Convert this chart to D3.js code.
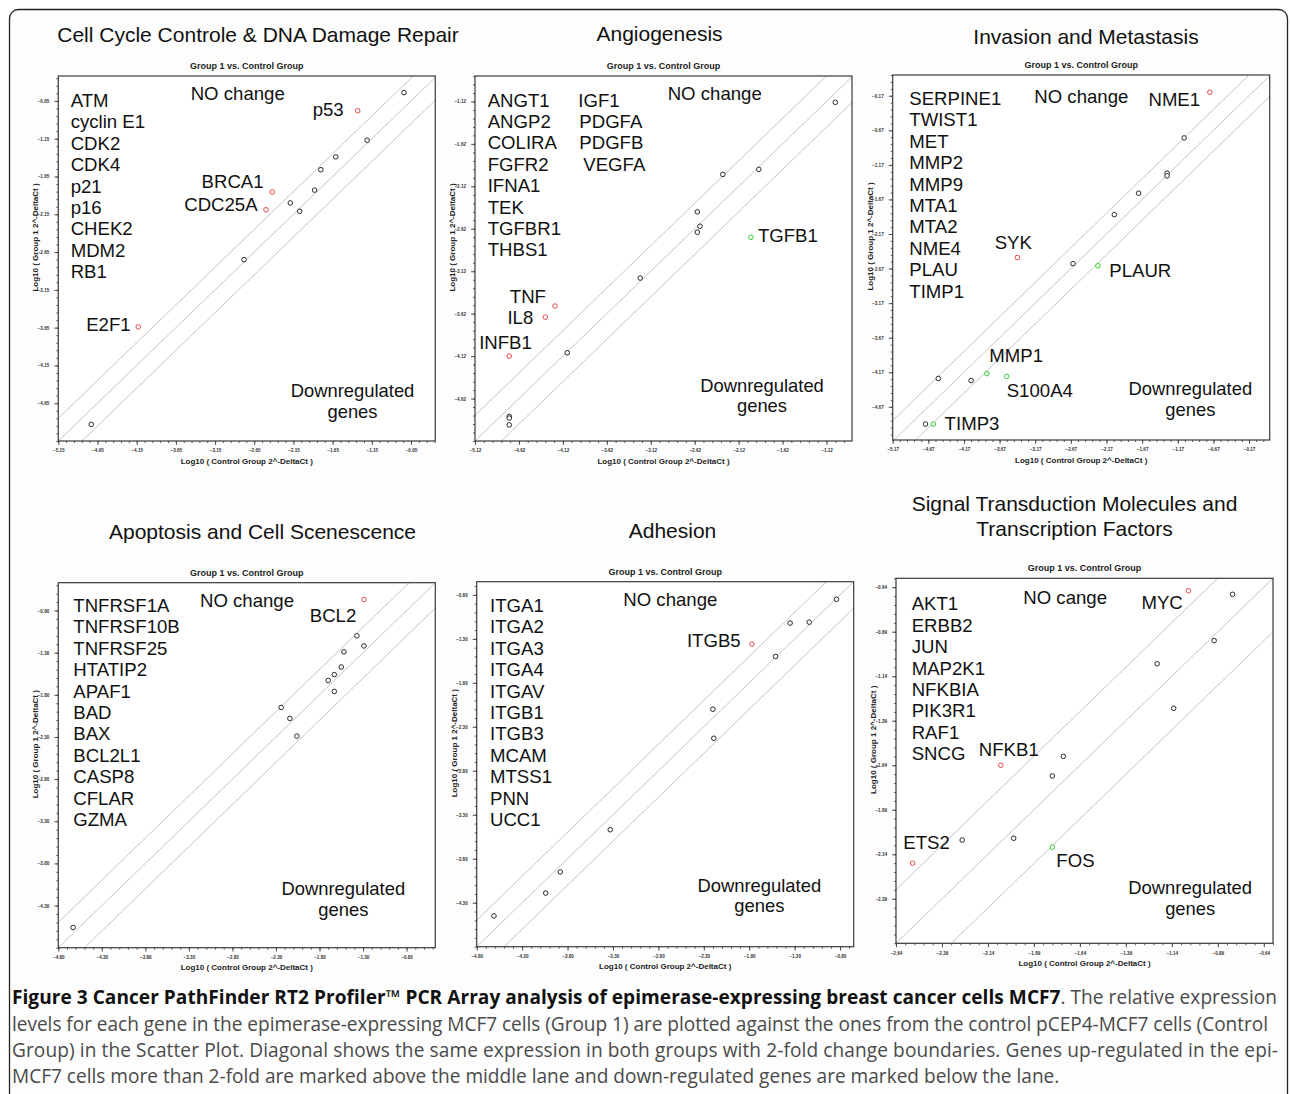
<!DOCTYPE html>
<html>
<head>
<meta charset="utf-8">
<script src="https://cdn.jsdelivr.net/npm/d3@7"></script>
<style>
  html, body { margin: 0; padding: 0; background: #ffffff; }
  svg { display: block; }
</style>
</head>
<body>
<svg id="fig" width="1290" height="1094"></svg>
<script>
// ---------------- data: log10(2^-DeltaCt), control group vs. group 1 ----------------

// Cell cycle control & DNA damage repair
const cellCycleGenes   = ["ATM", "cyclin E1", "CDK2", "CDK4", "p21", "p16", "CHEK2", "MDM2", "RB1"];
const cellCycleControl = [-0.74, -1.33, -1.21, -1.61, -1.80, -1.88, -2.42, -2.50, -2.19, -2.07, -2.78, -4.13, -4.73];
const cellCycleGroup1  = [-0.54, -0.78, -1.17, -1.39, -1.56, -1.83, -1.855, -2.09, -2.00, -2.11, -2.75, -3.64, -4.93];
const cellCycleStatus  = ["n", "up", "n", "n", "n", "n", "up", "up", "n", "n", "n", "up", "n"];
const cellCycleMarks   = ["", "p53", "", "", "", "", "BRCA1", "CDC25A", "", "", "", "E2F1", ""];
const cellCycleXTicks  = [-5.15, -4.65, -4.15, -3.65, -3.15, -2.65, -2.15, -1.65, -1.15, -0.65];
const cellCycleYTicks  = [-4.65, -4.15, -3.65, -3.15, -2.65, -2.15, -1.65, -1.15, -0.65];

// Angiogenesis
const angioGenesA   = ["ANGT1", "ANGP2", "COLIRA", "FGFR2", "IFNA1", "TEK", "TGFBR1", "THBS1"];
const angioGenesB   = ["IGF1", "PDGFA", "PDGFB", "VEGFA"];
const angioControl  = [-1.02, -1.89, -2.30, -2.59, -2.56, -2.59, -1.98, -3.24, -4.21, -4.32, -4.07, -4.73, -4.73, -4.73, -4.73];
const angioGroup1   = [-1.13, -1.92, -1.98, -2.42, -2.59, -2.66, -2.72, -3.20, -3.53, -3.66, -4.08, -4.12, -4.83, -4.85, -4.93];
const angioStatus   = ["n", "n", "n", "n", "n", "n", "down", "n", "up", "up", "n", "up", "n", "n", "n"];
const angioMarks    = ["", "", "", "", "", "", "TGFB1", "", "TNF", "IL8", "", "INFB1", "", "", ""];
const angioXTicks   = [-5.12, -4.62, -4.12, -3.62, -3.12, -2.62, -2.12, -1.62, -1.12];
const angioYTicks   = [-4.62, -4.12, -3.62, -3.12, -2.62, -2.12, -1.62, -1.12];

// Invasion and metastasis
const invasionGenes   = ["SERPINE1", "TWIST1", "MET", "MMP2", "MMP9", "MTA1", "MTA2", "NME4", "PLAU", "TIMP1"];
const invasionControl = [-0.72, -1.08, -1.32, -1.32, -1.72, -2.06, -2.64, -2.29, -3.42, -4.53, -4.07, -3.85, -3.57, -4.71, -4.60];
const invasionGroup1  = [-0.12, -0.78, -1.29, -1.33, -1.58, -1.89, -2.60, -2.63, -2.51, -4.26, -4.29, -4.19, -4.23, -4.92, -4.92];
const invasionStatus  = ["up", "n", "n", "n", "n", "n", "n", "down", "up", "n", "n", "down", "down", "n", "down"];
const invasionMarks   = ["NME1", "", "", "", "", "", "", "PLAUR", "SYK", "", "", "MMP1", "S100A4", "", "TIMP3"];
const invasionXTicks  = [-5.17, -4.67, -4.17, -3.67, -3.17, -2.67, -2.17, -1.67, -1.17, -0.67, -0.17];
const invasionYTicks  = [-4.67, -4.17, -3.67, -3.17, -2.67, -2.17, -1.67, -1.17, -0.67, -0.17];

// Apoptosis and cell senescence
const apoptosisGenes   = ["TNFRSF1A", "TNFRSF10B", "TNFRSF25", "HTATIP2", "APAF1", "BAD", "BAX", "BCL2L1", "CASP8", "CFLAR", "GZMA"];
const apoptosisControl = [-1.29, -1.37, -1.29, -1.52, -1.55, -1.63, -1.70, -1.63, -2.24, -2.14, -2.06, -4.63];
const apoptosisGroup1  = [-0.67, -1.10, -1.22, -1.29, -1.47, -1.56, -1.63, -1.76, -1.95, -2.08, -2.29, -4.56];
const apoptosisStatus  = ["up", "n", "n", "n", "n", "n", "n", "n", "n", "n", "n", "n"];
const apoptosisMarks   = ["BCL2", "", "", "", "", "", "", "", "", "", "", ""];
const apoptosisXTicks  = [-4.80, -4.30, -3.80, -3.30, -2.80, -2.30, -1.80, -1.30, -0.80];
const apoptosisYTicks  = [-4.30, -3.80, -3.30, -2.80, -2.30, -1.80, -1.30, -0.80];

// Adhesion
const adhesionGenes   = ["ITGA1", "ITGA2", "ITGA3", "ITGA4", "ITGAV", "ITGB1", "ITGB3", "MCAM", "MTSS1", "PNN", "UCC1"];
const adhesionControl = [-0.84, -1.14, -1.35, -1.77, -1.51, -2.20, -2.19, -3.33, -3.88, -4.04, -4.61];
const adhesionGroup1  = [-0.85, -1.11, -1.12, -1.36, -1.50, -2.10, -2.43, -3.47, -3.95, -4.19, -4.45];
const adhesionStatus  = ["n", "n", "n", "up", "n", "n", "n", "n", "n", "n", "n"];
const adhesionMarks   = ["", "", "", "ITGB5", "", "", "", "", "", "", ""];
const adhesionXTicks  = [-4.80, -4.30, -3.80, -3.30, -2.80, -2.30, -1.80, -1.30, -0.80];
const adhesionYTicks  = [-4.30, -3.80, -3.30, -2.80, -2.30, -1.80, -1.30, -0.80];

// Signal transduction molecules and transcription factors
const signalGenes   = ["AKT1", "ERBB2", "JUN", "MAP2K1", "NFKBIA", "PIK3R1", "RAF1", "SNCG"];
const signalControl = [-1.05, -0.81, -0.91, -1.22, -1.13, -1.73, -2.07, -1.79, -2.28, -2.00, -1.79, -2.55];
const signalGroup1  = [-0.66, -0.68, -0.94, -1.07, -1.32, -1.59, -1.64, -1.70, -2.06, -2.05, -2.10, -2.19];
const signalStatus  = ["up", "n", "n", "n", "n", "n", "up", "n", "n", "n", "down", "up"];
const signalMarks   = ["MYC", "", "", "", "", "", "NFKB1", "", "", "", "FOS", "ETS2"];
const signalXTicks  = [-2.64, -2.39, -2.14, -1.89, -1.64, -1.39, -1.14, -0.89, -0.64];
const signalYTicks  = [-2.39, -2.14, -1.89, -1.64, -1.39, -1.14, -0.89, -0.64];

// ---------------- layout ----------------
const W = 377, H = 365;
const FOLD = Math.log10(2);               // 2-fold boundary in log10 units
const plotFont = "'Liberation Sans', Arial, Helvetica, sans-serif";
const statusColor = { n: "#2a2a2a", up: "#e24a4a", down: "#33cc33" };

const panels = [
  {
    title: ["Cell Cycle Controle & DNA Damage Repair"], titleX: 258, titleY: [42],
    left: 58.3, top: 76, xDomain: [-5.15, -0.34], yDomain: [-5.15, -0.32],
    xTicks: cellCycleXTicks, yTicks: cellCycleYTicks, minor: 0.1,
    lists: [{ genes: cellCycleGenes, x: 12.4 }], listY: 31,
    noChange: "NO change", noChangePos: [132.4, 23.7],
    down: [294.2, -43.9, -23.3],
    control: cellCycleControl, group1: cellCycleGroup1, status: cellCycleStatus, marks: cellCycleMarks,
    markPos: { p53: ["end", -14, 5.5], BRCA1: ["end", -8.7, -3.7], CDC25A: ["end", -8.4, 1.3], E2F1: ["end", -7.6, 4.3] }
  },
  {
    title: ["Angiogenesis"], titleX: 659.5, titleY: [41],
    left: 475, top: 76, xDomain: [-5.12, -0.83], yDomain: [-5.12, -0.82],
    xTicks: angioXTicks, yTicks: angioYTicks, minor: 0.1,
    lists: [{ genes: angioGenesA, x: 12.7 }, { genes: angioGenesB, x: [103.3, 104.3, 104.3, 108.3] }], listY: 30.5,
    noChange: "NO change", noChangePos: [192.7, 23.7],
    down: [287, -49, -28.7],
    control: angioControl, group1: angioGroup1, status: angioStatus, marks: angioMarks,
    markPos: { TGFB1: ["start", 7, 5], TNF: ["end", -9, -3.5], IL8: ["end", -12, 7], INFB1: ["end", 22.6, -6.8] }
  },
  {
    title: ["Invasion and Metastasis"], titleX: 1086, titleY: [44],
    left: 892.7, top: 75, xDomain: [-5.17, 0.12], yDomain: [-5.15, 0.13],
    xTicks: invasionXTicks, yTicks: invasionYTicks, minor: 0.1,
    lists: [{ genes: invasionGenes, x: 16.6 }], listY: 30,
    noChange: "NO change", noChangePos: [141.6, 28.4],
    down: [297.6, -44.6, -23.6],
    control: invasionControl, group1: invasionGroup1, status: invasionStatus, marks: invasionMarks,
    markPos: { NME1: ["end", -9.7, 14], SYK: ["start", -22.7, -8.7], PLAUR: ["start", 11.3, 11.5],
               MMP1: ["start", 2.6, -11.8], S100A4: ["start", 0, 21], TIMP3: ["start", 11.3, 6] }
  },
  {
    title: ["Apoptosis and Cell Scenescence"], titleX: 262.5, titleY: [539],
    left: 58.3, top: 582.7, xDomain: [-4.80, -0.47], yDomain: [-4.80, -0.47],
    xTicks: apoptosisXTicks, yTicks: apoptosisYTicks, minor: 0.1,
    lists: [{ genes: apoptosisGenes, x: 15 }], listY: 29.3,
    noChange: "NO change", noChangePos: [141.7, 24.7],
    down: [285, -52.2, -31.6],
    control: apoptosisControl, group1: apoptosisGroup1, status: apoptosisStatus, marks: apoptosisMarks,
    markPos: { BCL2: ["end", -7.6, 22.5] }
  },
  {
    title: ["Adhesion"], titleX: 672.5, titleY: [538],
    left: 476.7, top: 581.7, xDomain: [-4.80, -0.65], yDomain: [-4.80, -0.65],
    xTicks: adhesionXTicks, yTicks: adhesionYTicks, minor: 0.1,
    lists: [{ genes: adhesionGenes, x: 13.3 }], listY: 30.3,
    noChange: "NO change", noChangePos: [146.6, 24],
    down: [282.6, -54.6, -34.3],
    control: adhesionControl, group1: adhesionGroup1, status: adhesionStatus, marks: adhesionMarks,
    markPos: { ITGB5: ["end", -11.3, 3.2] }
  },
  {
    title: ["Signal Transduction Molecules and", "Transcription Factors"], titleX: 1074.5, titleY: [511, 536],
    left: 896, top: 578.3, xDomain: [-2.64, -0.59], yDomain: [-2.64, -0.59],
    xTicks: signalXTicks, yTicks: signalYTicks, minor: 0.05,
    lists: [{ genes: signalGenes, x: 15.7 }], listY: 32.2,
    noChange: "NO cange", noChangePos: [127.3, 25.7],
    down: [294.2, -49.6, -28.6],
    control: signalControl, group1: signalGroup1, status: signalStatus, marks: signalMarks,
    markPos: { MYC: ["end", -5.6, 18.5], NFKB1: ["start", -22, -9.5], ETS2: ["start", -9.3, -14.1], FOS: ["start", 4, 19.8] }
  }
];

const svg = d3.select("#fig");

// figure frame with rounded corners
svg.append("rect")
  .attr("x", 9.5).attr("y", 9.5).attr("width", 1278).attr("height", 1100).attr("rx", 9)
  .attr("fill", "#fdfdfd").attr("stroke", "#222").attr("stroke-width", 1.3);

function minorValues(ticks, domain, step) {
  const t0 = ticks[0], lo = Math.min(...domain), hi = Math.max(...domain);
  const k0 = Math.ceil((lo - t0) / step - 1e-6), k1 = Math.floor((hi - t0) / step + 1e-6);
  return d3.range(k0, k1 + 1).map(k => t0 + k * step);
}

const fmt = d => d3.format(".2f")(d);

panels.forEach((p, i) => {
  // panel heading
  const heading = svg.append("text")
    .attr("font-family", plotFont).attr("font-size", 21).attr("fill", "#111")
    .attr("text-anchor", "middle");
  p.title.forEach((line, j) => heading.append("tspan").attr("x", p.titleX).attr("y", p.titleY[j]).text(line));

  const g = svg.append("g").attr("transform", `translate(${p.left},${p.top})`);
  const x = d3.scaleLinear().domain(p.xDomain).range([0, W]);
  const y = d3.scaleLinear().domain(p.yDomain).range([H, 0]);

  g.append("rect").attr("width", W).attr("height", H).attr("fill", "#ffffff");

  // scatter title and axis titles
  g.append("text").attr("x", W / 2).attr("y", -7).attr("text-anchor", "middle")
    .attr("font-family", plotFont).attr("font-weight", "bold").attr("font-size", 9).attr("fill", "#222")
    .text("Group 1 vs. Control Group");
  g.append("text").attr("x", W / 2).attr("y", H + 22.5).attr("text-anchor", "middle")
    .attr("font-family", plotFont).attr("font-weight", "bold").attr("font-size", 8).attr("fill", "#222")
    .text("Log10 ( Control Group 2^-DeltaCt )");
  g.append("text").attr("transform", `translate(-23,${H / 2 - 21}) rotate(-90)`)
    .attr("text-anchor", "middle").attr("dy", "0.35em")
    .attr("font-family", plotFont).attr("font-weight", "bold").attr("font-size", 8).attr("fill", "#222")
    .text("Log10 ( Group 1 2^-DeltaCt )");

  // diagonal: equal expression plus the 2-fold boundaries
  const clipId = `clip${i}`;
  g.append("clipPath").attr("id", clipId).append("rect").attr("width", W).attr("height", H);
  const lo = Math.min(p.xDomain[0], p.yDomain[0]) - 1, hi = Math.max(p.xDomain[1], p.yDomain[1]) + 1;
  const diag = d3.line().x(d => x(d[0])).y(d => y(d[1]));
  g.append("g").attr("clip-path", `url(#${clipId})`)
    .selectAll("path").data([FOLD, 0, -FOLD]).join("path")
    .attr("d", o => diag([[lo, lo + o], [hi, hi + o]]))
    .attr("fill", "none").attr("stroke", "#c4c4c4").attr("stroke-width", 1);

  // axes: major ticks with labels, minor ticks between
  const styleAxis = sel => {
    sel.select(".domain").remove();
    sel.selectAll("line").attr("stroke", "#333").attr("stroke-width", 0.8);
    sel.selectAll("text").attr("font-family", plotFont).attr("font-weight", "bold")
      .attr("font-size", 4.6).attr("fill", "#333");
  };
  g.append("g").attr("transform", `translate(0,${H})`)
    .call(d3.axisBottom(x).tickValues(minorValues(p.xTicks, p.xDomain, p.minor)).tickSize(2).tickFormat(""))
    .call(styleAxis);
  g.append("g")
    .call(d3.axisLeft(y).tickValues(minorValues(p.yTicks, p.yDomain, p.minor)).tickSize(2).tickFormat(""))
    .call(styleAxis);
  g.append("g").attr("transform", `translate(0,${H})`)
    .call(d3.axisBottom(x).tickValues(p.xTicks).tickSize(4).tickPadding(4).tickFormat(fmt))
    .call(styleAxis);
  g.append("g")
    .call(d3.axisLeft(y).tickValues(p.yTicks).tickSize(4).tickPadding(5).tickFormat(fmt))
    .call(styleAxis);

  g.append("rect").attr("width", W).attr("height", H)
    .attr("fill", "none").attr("stroke", "#3a3a3a").attr("stroke-width", 1.2);

  // gene lists and region notes
  const big = sel => sel.attr("font-family", plotFont).attr("font-size", 18.6).attr("fill", "#111");
  p.lists.forEach(col => {
    g.append("g").selectAll("text").data(col.genes).join("text")
      .attr("x", (d, k) => Array.isArray(col.x) ? col.x[k] : col.x)
      .attr("y", (d, k) => p.listY + k * 21.4)
      .text(d => d).call(big);
  });
  g.append("text").attr("x", p.noChangePos[0]).attr("y", p.noChangePos[1]).text(p.noChange).call(big);
  g.append("text").attr("text-anchor", "middle").call(big).attr("font-size", 18.4)
    .selectAll("tspan").data(["Downregulated", "genes"]).join("tspan")
    .attr("x", p.down[0]).attr("y", (d, k) => H + p.down[1 + k]).text(d => d);

  // points
  const pts = p.control.map((c, k) => ({ c, g: p.group1[k], s: p.status[k], m: p.marks[k] }));
  g.append("g").selectAll("circle").data(pts).join("circle")
    .attr("cx", d => x(d.c)).attr("cy", d => y(d.g)).attr("r", 2.3)
    .attr("fill", "#ffffff").attr("stroke", d => statusColor[d.s]).attr("stroke-width", 1);

  // gene names beside the changed points
  g.append("g").selectAll("text").data(pts.filter(d => d.m)).join("text")
    .attr("text-anchor", d => p.markPos[d.m][0])
    .attr("x", d => x(d.c) + p.markPos[d.m][1])
    .attr("y", d => y(d.g) + p.markPos[d.m][2])
    .text(d => d.m).call(big);
});

// ---------------- caption ----------------
const captionFont = "'Open Sans', 'Noto Sans', sans-serif";
const capLines = [
  null,
  "levels for each gene in the epimerase-expressing MCF7 cells (Group 1) are plotted against the ones from the control pCEP4-MCF7 cells (Control",
  "Group) in the Scatter Plot. Diagonal shows the same expression in both groups with 2-fold change boundaries. Genes up-regulated in the epi-",
  "MCF7 cells more than 2-fold are marked above the middle lane and down-regulated genes are marked below the lane."
];
const capBase = [1004, 1031, 1057, 1083];
const capWidth = [1265, 1256, 1266, null];
const cap = svg.append("g").attr("font-family", captionFont).attr("fill", "#4a4a4a");

// size the caption so the final (unjustified) line keeps its natural width
const probe = cap.append("text").attr("x", 12).attr("y", capBase[3]).attr("font-size", 17).text(capLines[3]);
const capSize = 17 * 1048 / probe.node().getComputedTextLength();
probe.attr("font-size", capSize);

const first = cap.append("text").attr("x", 12).attr("y", capBase[0]).attr("font-size", capSize);
first.append("tspan").attr("font-weight", "bold").attr("fill", "#111")
  .text("Figure 3 Cancer PathFinder RT2 Profiler\u2122 PCR Array analysis of epimerase-expressing breast cancer cells MCF7");
first.append("tspan").text(". The relative expression");
first.attr("textLength", capWidth[0]).attr("lengthAdjust", "spacing");

[1, 2].forEach(k => {
  cap.append("text").attr("x", 12).attr("y", capBase[k]).attr("font-size", capSize)
    .attr("textLength", capWidth[k]).attr("lengthAdjust", "spacing").text(capLines[k]);
});
</script>
</body>
</html>
